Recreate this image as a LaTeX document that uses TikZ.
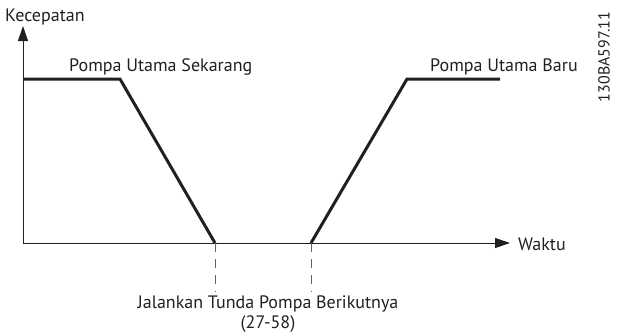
\documentclass[tikz,border=0pt]{standalone}
\usepackage{fontspec}
\setmainfont{PT Sans}
\usetikzlibrary{arrows.meta}
\definecolor{ink}{HTML}{231F20}
\begin{document}
\begin{tikzpicture}[x=1pt,y=-1pt,
  axis/.style={draw=ink,line width=1pt,-{Triangle[length=15pt,width=10pt]}},
  curve/.style={draw=ink,line width=3pt,line join=miter},
  guide/.style={draw=ink!70,line width=1pt,dash pattern=on 9pt off 7pt},
  lbl/.style={text=ink,font=\fontsize{18}{21}\selectfont,inner sep=0pt}]
\useasboundingbox (0,0) rectangle (626,335);
\coordinate (o) at (23,243);
\coordinate (ytip) at (23,26);
\coordinate (xtip) at (510,243);
\draw[axis] (o) -- (ytip);
\draw[axis] (o) -- (xtip);
\coordinate (a0) at (23,79);
\coordinate (a1) at (120,79);
\coordinate (a2) at (215,243);
\coordinate (b0) at (311,243);
\coordinate (b1) at (407,79);
\coordinate (b2) at (500,79);
\draw[curve] (a0) -- (a1) -- (a2);
\draw[curve] (b0) -- (b1) -- (b2);
\coordinate (d1) at (215,292);
\coordinate (d2) at (311,292);
\draw[guide] (a2) -- (d1);
\draw[guide] (b0) -- (d2);
\node[lbl,anchor=west] (ky) at (5,17) {Kecepatan};
\node[lbl,anchor=west] (kx) at (518,244) {Waktu};
\node[lbl,anchor=west] (s) at (69,67) {Pompa Utama Sekarang};
\node[lbl,anchor=west] (n) at (430,67) {Pompa Utama Baru};
\node[lbl,align=center,font=\fontsize{18}{20}\selectfont] (t) at (268,314) {Jalankan Tunda Pompa Berikutnya\\(27-58)};
\node[lbl,rotate=90,font=\fontsize{16}{18}\selectfont] (id) at (604,57) {130BA597.11};
\end{tikzpicture}
\end{document}
